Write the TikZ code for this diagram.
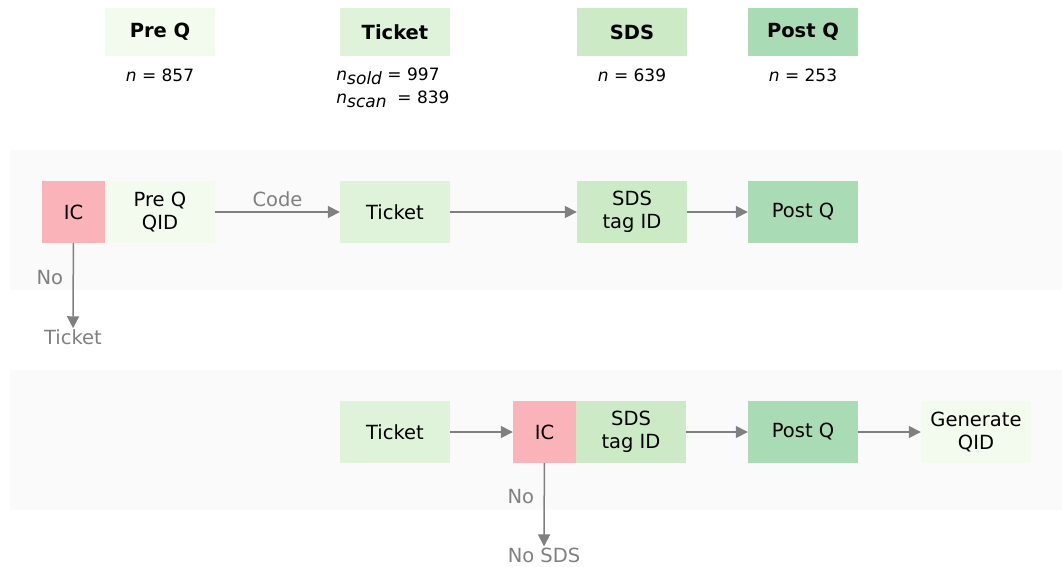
\documentclass[tikz,border=0pt]{standalone}
\usepackage{fontspec}
\setmainfont{DejaVu Sans}
\usetikzlibrary{arrows.meta,positioning}
\definecolor{preq}{HTML}{F3FAEE}
\definecolor{tick}{HTML}{DFF2DA}
\definecolor{sds}{HTML}{CBEAC5}
\definecolor{postq}{HTML}{A9DCB4}
\definecolor{icred}{HTML}{FAB3B8}
\definecolor{band}{HTML}{FAFAFA}
\definecolor{flow}{HTML}{808080}

\begin{document}
\begin{tikzpicture}[x=1pt, y=-1pt,
      every node/.append style={font=\fontsize{19.5}{23}\selectfont},
      box/.style={minimum width=110pt, minimum height=62pt, inner sep=0pt, align=center},
      icbox/.style={box, fill=icred, minimum width=63pt},
      head/.style={minimum width=110pt, minimum height=48pt, inner sep=0pt, font=\fontsize{19.5}{23}\selectfont\bfseries},
      count/.style={font=\fontsize{17}{20}\selectfont, inner sep=0pt},
      flowlbl/.style={text=flow},
      arr/.style={-{Triangle[length=12pt,width=12pt]}, draw=flow, line width=1.5pt}]
    \useasboundingbox (0,0) rectangle (1062,566);
    % grey bands
    \fill[band] (10,150) rectangle (1062,290);
    \fill[band] (10,370) rectangle (1062,510);

    % stage headers
    \node (PreQhead)    [head, fill=preq]  at (160,32) {Pre Q};
    \node (Tickethead)  [head, fill=tick]  at (395,32) {Ticket};
    \node (SDShead)     [head, fill=sds]   at (632,32) {SDS};
    \node (PostQhead)   [head, fill=postq] at (803,32) {Post Q};
    \node (PreQn)   [count] at (160,75) {\textit{n} = 857};
    \node (Ticketn) [count, align=left] at (393,88)
      {\textit{n}\raisebox{-.4ex}{\textit{sold}} = 997\\[3pt]\textit{n}\raisebox{-.4ex}{\textit{scan}}\ \ = 839};
    \node (SDSn)    [count] at (632,75) {\textit{n} = 639};
    \node (PostQn)  [count] at (803,75) {\textit{n} = 253};

    % first flow
    \node (IC1)      [icbox] at (73.5,212) {IC};
    \node (PreQQID)  [box, fill=preq]  at (160,212) {Pre Q\\QID};
    \node (Ticket1)  [box, fill=tick]  at (395,212) {Ticket};
    \node (SDS1)     [box, fill=sds]   at (632,212) {SDS\\tag ID};
    \node (PostQ1)   [box, fill=postq] at (803,212) {Post Q};
    \node (NoTicket) [flowlbl, inner sep=1pt] at (73,337) {Ticket};
    \draw[arr] (PreQQID) -- node[flowlbl, above=1pt] {Code} (Ticket1);
    \draw[arr] (Ticket1) -- (SDS1);
    \draw[arr] (SDS1) -- (PostQ1);
    \draw[arr] (IC1) -- node[flowlbl, left=6pt, pos=0.4] {No} (NoTicket);

    % second flow
    \node (Ticket2)  [box, fill=tick]  at (395,432) {Ticket};
    \node (IC2)      [icbox] at (544.5,432) {IC};
    \node (SDS2)     [box, fill=sds]   at (631,432) {SDS\\tag ID};
    \node (PostQ2)   [box, fill=postq] at (803,432) {Post Q};
    \node (GenQID)   [box, fill=preq]  at (976,432) {Generate\\QID};
    \node (NoSDS)    [flowlbl, inner sep=1pt] at (544,555) {No SDS};
    \draw[arr] (Ticket2) -- (IC2);
    \draw[arr] (SDS2) -- (PostQ2);
    \draw[arr] (PostQ2) -- (GenQID);
    \draw[arr] (IC2) -- node[flowlbl, left=6pt, pos=0.4] {No} (NoSDS);
\end{tikzpicture}
\end{document}
